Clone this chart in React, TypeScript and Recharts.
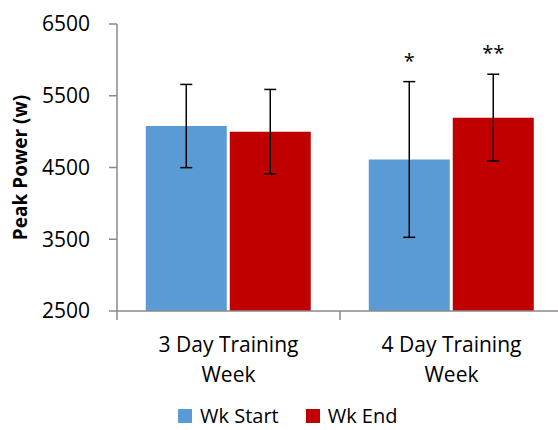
import React from 'react';
import { BarChart, Bar, XAxis, YAxis, ErrorBar, Legend, LabelList } from 'recharts';

const categories = ['3 Day Training Week', '4 Day Training Week'];
const seriesNames = ['Wk Start', 'Wk End'];
const seriesColors = ['#5B9BD5', '#C00000'];
const wkStart = [5078, 4612];
const wkEnd = [5000, 5195];
const wkStartErr = [580, 1085];
const wkEndErr = [588, 605];
const wkStartSig = ['', '*'];
const wkEndSig = ['', '**'];
const yTicks = [2500, 3500, 4500, 5500, 6500];

const Y_MIN = yTicks[0];
const Y_MAX = yTicks[yTicks.length - 1];
const FONT = '"Open Sans", sans-serif';
const AXIS_COLOR = '#898989';

const data = categories.map((c, i) => ({
  name: c,
  start: wkStart[i],
  end: wkEnd[i],
  startErr: wkStartErr[i],
  endErr: wkEndErr[i],
  startSig: wkStartSig[i],
  endSig: wkEndSig[i],
}));

const CategoryTick = (props: any) => {
  const { x, y, payload, width, visibleTicksCount, index } = props;
  const half =
    payload && typeof payload.offset === 'number' && payload.offset > 0
      ? payload.offset
      : Number(width) / Number(visibleTicksCount || categories.length) / 2;
  const words = String(payload.value).split(' ');
  const last = words.pop();
  const isLast = index === categories.length - 1;
  return (
    <g>
      <line x1={x - half} x2={x - half} y1={y} y2={y + 9} stroke={AXIS_COLOR} strokeWidth={1.5} />
      {isLast && <line x1={x + half} x2={x + half} y1={y} y2={y + 9} stroke={AXIS_COLOR} strokeWidth={1.5} />}
      <text x={x} y={y} textAnchor="middle" fontSize={21} fontFamily={FONT} fill="#000">
        <tspan x={x} dy={41}>{words.join(' ')}</tspan>
        <tspan x={x} dy={30}>{last}</tspan>
      </text>
    </g>
  );
};

const makeSig = (values: number[], errs: number[]) => (props: any) => {
  const { index, value } = props;
  if (!value) return null;
  const vb = props.viewBox && props.viewBox.width != null ? props.viewBox : props;
  const bx = Number(vb.x);
  const by = Number(vb.y);
  const bw = Number(vb.width);
  const bh = Number(vb.height);
  const v = values[index];
  const pxPerUnit = bh / (v - Y_MIN);
  const errTop = by - errs[index] * pxPerUnit;
  return (
    <text x={bx + bw / 2} y={errTop - 14} textAnchor="middle" fontSize={20} fontFamily={FONT} fill="#000">
      {value}
    </text>
  );
};

const LegendContent = (props: any) => {
  const { payload = [] } = props;
  const items = seriesNames.map((n, i) => {
    const found = payload.find((p: any) => p.value === n);
    return { value: n, color: found ? found.color : seriesColors[i] };
  });
  return (
    <div
      style={{
        display: 'flex',
        alignItems: 'center',
        height: 26,
        lineHeight: '26px',
        paddingLeft: 178,
        fontFamily: FONT,
        fontSize: 20,
        color: '#000',
        boxSizing: 'border-box',
        whiteSpace: 'nowrap',
      }}
    >
      {items.map((p, i) => (
        <div key={i} style={{ display: 'flex', alignItems: 'center', marginRight: 27 }}>
          <span style={{ width: 14, height: 14, background: p.color, display: 'inline-block', marginRight: 8 }} />
          <span>{p.value}</span>
        </div>
      ))}
    </div>
  );
};

export default function App() {
  return (
    <div style={{ position: 'absolute', left: 0, top: 0, width: 558, height: 430, overflow: 'hidden', background: '#fff' }}>
      <BarChart
        width={563}
        height={430}
        data={data}
        margin={{ top: 24, right: 0, left: 0, bottom: 0 }}
        barCategoryGap="12.9%"
        barGap={3}
      >
        <XAxis
          dataKey="name"
          axisLine={{ stroke: AXIS_COLOR, strokeWidth: 1.5 }}
          tickLine={false}
          tickSize={0}
          tickMargin={0}
          height={93}
          interval={0}
          tick={<CategoryTick />}
        />
        <YAxis
          domain={[Y_MIN, Y_MAX]}
          ticks={yTicks}
          width={117}
          tickSize={8}
          tickMargin={19}
          interval={0}
          allowDataOverflow
          stroke={AXIS_COLOR}
          strokeWidth={1.5}
          tick={{ fontSize: 21, fill: '#000', fontFamily: FONT }}
          label={{
            value: 'Peak Power (w)',
            angle: -90,
            position: 'insideLeft',
            offset: 20,
            style: { textAnchor: 'middle', fontWeight: 700, fontSize: 19, fontFamily: FONT, fill: '#000' },
          }}
        />
        <Legend content={<LegendContent />} wrapperStyle={{ top: 403, left: 0, width: 558, height: 26 }} />
        <Bar dataKey="start" name={seriesNames[0]} fill={seriesColors[0]} isAnimationActive={false}>
          <ErrorBar dataKey="startErr" width={6} stroke="#000" strokeWidth={1.5} direction="y" />
          <LabelList dataKey="startSig" content={makeSig(wkStart, wkStartErr)} />
        </Bar>
        <Bar dataKey="end" name={seriesNames[1]} fill={seriesColors[1]} isAnimationActive={false}>
          <ErrorBar dataKey="endErr" width={6} stroke="#000" strokeWidth={1.5} direction="y" />
          <LabelList dataKey="endSig" content={makeSig(wkEnd, wkEndErr)} />
        </Bar>
      </BarChart>
    </div>
  );
}
